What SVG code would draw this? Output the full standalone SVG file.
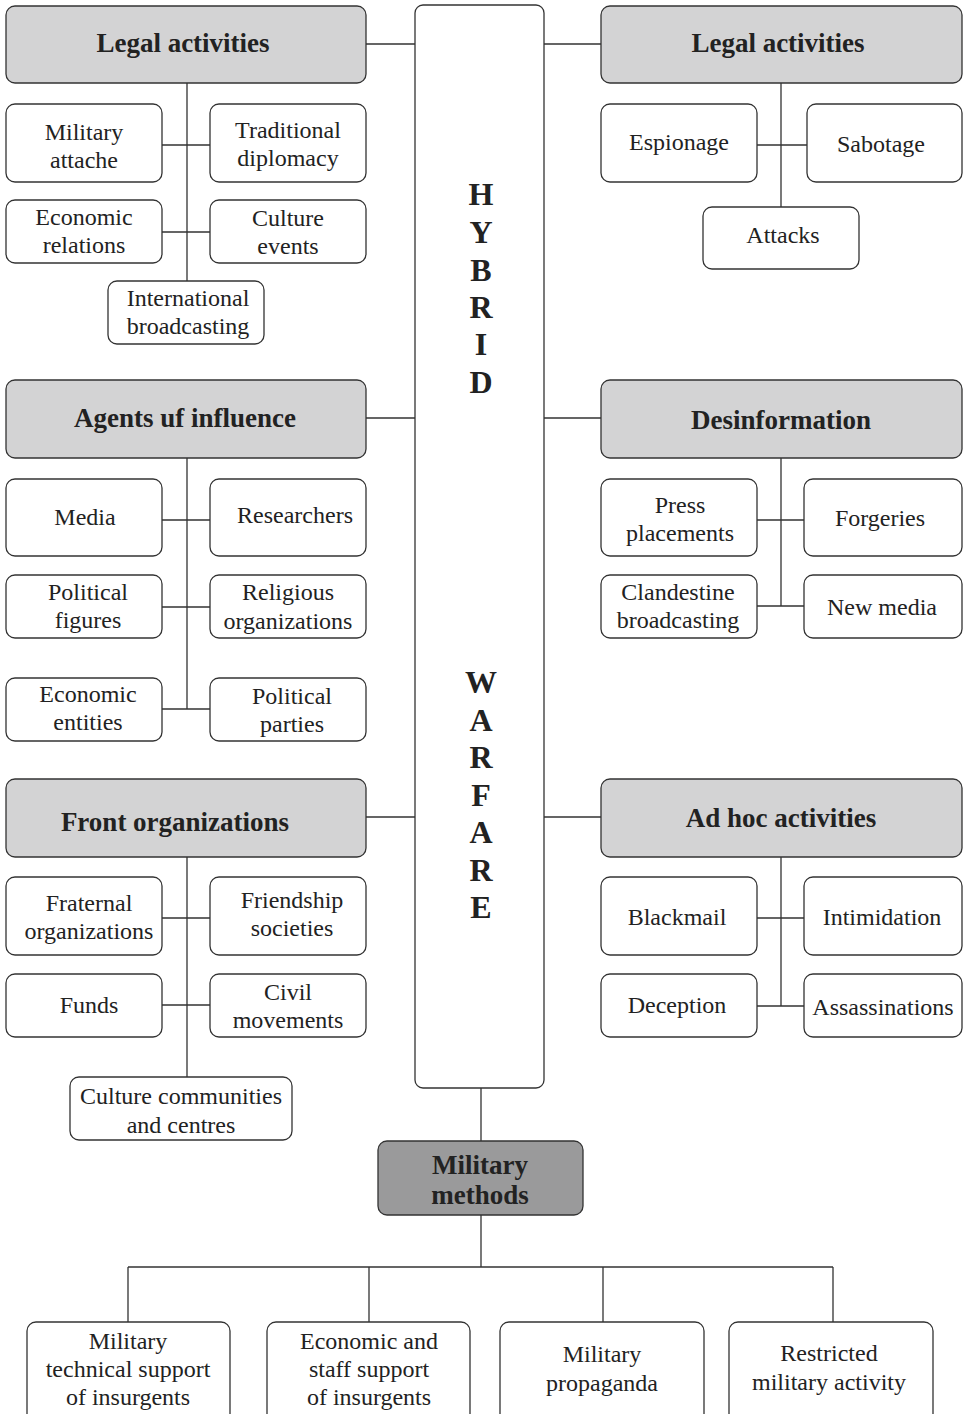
<svg xmlns="http://www.w3.org/2000/svg" width="963" height="1414" viewBox="0 0 963 1414">
<style>
.b{fill:#fff;stroke:#333;stroke-width:1.3}
.h{fill:#d3d3d4;stroke:#333;stroke-width:1.3}
.m{fill:#9a9a9b;stroke:#333;stroke-width:1.3}
.t{font-family:"Liberation Serif","Times New Roman",serif;font-size:24px;fill:#222;text-anchor:middle}
.ht{font-family:"Liberation Serif","Times New Roman",serif;font-size:27px;font-weight:bold;fill:#222;text-anchor:middle}
.vt{font-family:"Liberation Serif","Times New Roman",serif;font-size:32px;font-weight:bold;fill:#222;text-anchor:middle}
.c{stroke:#333;stroke-width:1.3;fill:none}
</style>
<rect width="963" height="1414" fill="#fff"/>
<g id="connectors" class="c">
<path d="M366 44H415M544 44H601M366 418H415M544 418H601M366 817H415M544 817H601"/>
<path d="M187 83V281M162 145H210M162 232H210"/>
<path d="M781 83V207M757 145H807"/>
<path d="M187 458V709M162 520H210M162 607H210M162 709H210"/>
<path d="M781 458V606M757 520H804M757 606H804"/>
<path d="M187 857V1077M162 918H210M162 1005H210"/>
<path d="M781 857V1006M757 918H804M757 1006H804"/>
<path d="M481 1088V1141M481 1215V1267M128 1267H833M128 1267V1322M369 1267V1322M603 1267V1322M833 1267V1322"/>
</g>
<g id="hybrid-warfare">
<rect class="b" x="415" y="5" width="129" height="1083" rx="8"/>
<text class="vt" x="481" y="205">H</text>
<text class="vt" x="481" y="243">Y</text>
<text class="vt" x="481" y="281">B</text>
<text class="vt" x="481" y="318">R</text>
<text class="vt" x="481" y="355">I</text>
<text class="vt" x="481" y="393">D</text>
<text class="vt" x="481" y="693">W</text>
<text class="vt" x="481" y="731">A</text>
<text class="vt" x="481" y="768">R</text>
<text class="vt" x="481" y="806">F</text>
<text class="vt" x="481" y="843">A</text>
<text class="vt" x="481" y="881">R</text>
<text class="vt" x="481" y="918">E</text>
</g>
<g id="legal-left"><rect class="h" x="6" y="6" width="360" height="77" rx="9"/><text class="ht" x="183" y="52">Legal activities</text></g>
<g id="military-attache"><rect class="b" x="6" y="104" width="156" height="78" rx="9"/><text class="t" x="84" y="140">Military</text><text class="t" x="84" y="168">attache</text></g>
<g id="traditional-diplomacy"><rect class="b" x="210" y="104" width="156" height="78" rx="9"/><text class="t" x="288" y="138">Traditional</text><text class="t" x="288" y="166">diplomacy</text></g>
<g id="economic-relations"><rect class="b" x="6" y="200" width="156" height="63" rx="9"/><text class="t" x="84" y="225">Economic</text><text class="t" x="84" y="253">relations</text></g>
<g id="culture-events"><rect class="b" x="210" y="200" width="156" height="63" rx="9"/><text class="t" x="288" y="226">Culture</text><text class="t" x="288" y="254">events</text></g>
<g id="international-broadcasting"><rect class="b" x="108" y="281" width="156" height="63" rx="9"/><text class="t" x="188" y="306">International</text><text class="t" x="188" y="334">broadcasting</text></g>
<g id="legal-right"><rect class="h" x="601" y="6" width="361" height="77" rx="9"/><text class="ht" x="778" y="52">Legal activities</text></g>
<g id="espionage"><rect class="b" x="601" y="104" width="156" height="78" rx="9"/><text class="t" x="679" y="150">Espionage</text></g>
<g id="sabotage"><rect class="b" x="807" y="104" width="155" height="78" rx="9"/><text class="t" x="881" y="152">Sabotage</text></g>
<g id="attacks"><rect class="b" x="703" y="207" width="156" height="62" rx="9"/><text class="t" x="783" y="243">Attacks</text></g>
<g id="agents"><rect class="h" x="6" y="380" width="360" height="78" rx="9"/><text class="ht" x="185" y="427">Agents uf influence</text></g>
<g id="media"><rect class="b" x="6" y="479" width="156" height="77" rx="9"/><text class="t" x="85" y="525">Media</text></g>
<g id="researchers"><rect class="b" x="210" y="479" width="156" height="77" rx="9"/><text class="t" x="295" y="523">Researchers</text></g>
<g id="political-figures"><rect class="b" x="6" y="575" width="156" height="63" rx="9"/><text class="t" x="88" y="600">Political</text><text class="t" x="88" y="628">figures</text></g>
<g id="religious-organizations"><rect class="b" x="210" y="575" width="156" height="63" rx="9"/><text class="t" x="288" y="600">Religious</text><text class="t" x="288" y="629">organizations</text></g>
<g id="economic-entities"><rect class="b" x="6" y="678" width="156" height="63" rx="9"/><text class="t" x="88" y="702">Economic</text><text class="t" x="88" y="730">entities</text></g>
<g id="political-parties"><rect class="b" x="210" y="678" width="156" height="63" rx="9"/><text class="t" x="292" y="704">Political</text><text class="t" x="292" y="732">parties</text></g>
<g id="desinformation"><rect class="h" x="601" y="380" width="361" height="78" rx="9"/><text class="ht" x="781" y="429">Desinformation</text></g>
<g id="press-placements"><rect class="b" x="601" y="479" width="156" height="77" rx="9"/><text class="t" x="680" y="513">Press</text><text class="t" x="680" y="541">placements</text></g>
<g id="forgeries"><rect class="b" x="804" y="479" width="158" height="77" rx="9"/><text class="t" x="880" y="526">Forgeries</text></g>
<g id="clandestine-broadcasting"><rect class="b" x="601" y="575" width="156" height="63" rx="9"/><text class="t" x="678" y="600">Clandestine</text><text class="t" x="678" y="628">broadcasting</text></g>
<g id="new-media"><rect class="b" x="804" y="575" width="158" height="63" rx="9"/><text class="t" x="882" y="615">New media</text></g>
<g id="front-organizations"><rect class="h" x="6" y="779" width="360" height="78" rx="9"/><text class="ht" x="175" y="831">Front organizations</text></g>
<g id="fraternal-organizations"><rect class="b" x="6" y="877" width="156" height="78" rx="9"/><text class="t" x="89" y="911">Fraternal</text><text class="t" x="89" y="939">organizations</text></g>
<g id="friendship-societies"><rect class="b" x="210" y="877" width="156" height="78" rx="9"/><text class="t" x="292" y="908">Friendship</text><text class="t" x="292" y="936">societies</text></g>
<g id="funds"><rect class="b" x="6" y="974" width="156" height="63" rx="9"/><text class="t" x="89" y="1013">Funds</text></g>
<g id="civil-movements"><rect class="b" x="210" y="974" width="156" height="63" rx="9"/><text class="t" x="288" y="1000">Civil</text><text class="t" x="288" y="1028">movements</text></g>
<g id="culture-communities"><rect class="b" x="70" y="1077" width="222" height="63" rx="9"/><text class="t" x="181" y="1104">Culture communities</text><text class="t" x="181" y="1133">and centres</text></g>
<g id="ad-hoc"><rect class="h" x="601" y="779" width="361" height="78" rx="9"/><text class="ht" x="781" y="827">Ad hoc activities</text></g>
<g id="blackmail"><rect class="b" x="601" y="877" width="156" height="78" rx="9"/><text class="t" x="677" y="925">Blackmail</text></g>
<g id="intimidation"><rect class="b" x="804" y="877" width="158" height="78" rx="9"/><text class="t" x="882" y="925">Intimidation</text></g>
<g id="deception"><rect class="b" x="601" y="974" width="156" height="63" rx="9"/><text class="t" x="677" y="1013">Deception</text></g>
<g id="assassinations"><rect class="b" x="804" y="974" width="158" height="63" rx="9"/><text class="t" x="883" y="1015">Assassinations</text></g>
<g id="military-methods"><rect class="m" x="378" y="1141" width="205" height="74" rx="9"/><text class="ht" x="480" y="1174">Military</text><text class="ht" x="480" y="1204">methods</text></g>
<g id="military-technical-support"><rect class="b" x="27" y="1322" width="203" height="110" rx="9"/><text class="t" x="128" y="1349">Military</text><text class="t" x="128" y="1377">technical support</text><text class="t" x="128" y="1405">of insurgents</text></g>
<g id="economic-staff-support"><rect class="b" x="267" y="1322" width="203" height="110" rx="9"/><text class="t" x="369" y="1349">Economic and</text><text class="t" x="369" y="1377">staff support</text><text class="t" x="369" y="1405">of insurgents</text></g>
<g id="military-propaganda"><rect class="b" x="500" y="1322" width="204" height="110" rx="9"/><text class="t" x="602" y="1362">Military</text><text class="t" x="602" y="1391">propaganda</text></g>
<g id="restricted-military-activity"><rect class="b" x="729" y="1322" width="204" height="110" rx="9"/><text class="t" x="829" y="1361">Restricted</text><text class="t" x="829" y="1390">military activity</text></g>
</svg>
